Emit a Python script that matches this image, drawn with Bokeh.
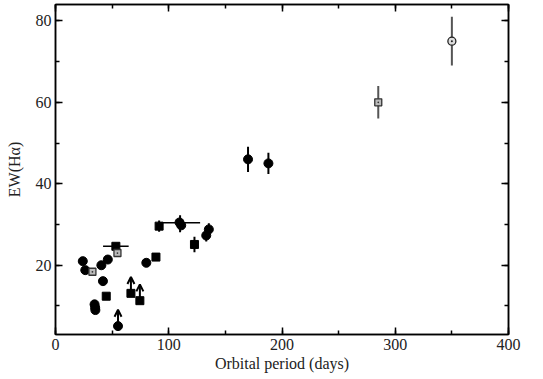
from bokeh.plotting import figure
from bokeh.models import (LinearAxis, SingleIntervalTicker, Range1d, Arrow,
                          OpenHead, ColumnDataSource, CustomLabelingPolicy)
from bokeh.embed import file_html
from bokeh.resources import INLINE

# ---- data (orbital period in days, EW(Halpha)) ----
circ_P = [24.1, 26.3, 40.5, 46.2, 41.9, 34.5, 35.0, 35.2, 55.2, 80.2, 109.5, 111.0, 133.1, 135.4, 170.0, 188.0]
circ_E = [21.0, 18.8, 20.0, 21.4, 16.1, 10.4, 9.6, 9.0, 5.06, 20.6, 30.5, 29.8, 27.3, 28.8, 46.0, 45.0]

sq_P = [44.8, 53.3, 88.7, 91.5, 122.7, 66.6, 74.5]
sq_E = [12.4, 24.65, 22.0, 29.6, 25.1, 13.1, 11.3]

osq_P = [32.6, 54.7, 285.0]
osq_E = [18.4, 23.0, 60.0]

ocirc_P = [350.0]
ocirc_E = [75.0]

# vertical error bars (x, y, +/- err)
yerr_P = [91.5, 110.0, 122.7, 133.1, 135.4, 170.0, 188.0]
yerr_E = [29.6, 30.2, 25.1, 27.3, 28.8, 46.0, 45.0]
yerr_d = [1.4, 2.1, 1.9, 1.5, 1.5, 3.1, 2.6]

yerr_open_P = [285.0, 350.0]
yerr_open_E = [60.0, 75.0]
yerr_open_d = [4.0, 6.0]

# horizontal error bars
xerr_P = [53.3, 110.0]
xerr_E = [24.65, 30.4]
xerr_d = [11.3, 17.7]

# lower limits (arrows)
lim_P = [55.2, 66.6, 74.5]
lim_E = [5.06, 13.1, 11.3]
lim_len = [4.0, 4.0, 4.0]

FONT = "Liberation Serif"
TXT = "#222222"

p = figure(width=543, height=379, x_range=Range1d(0, 400), y_range=Range1d(3, 84),
           output_backend="svg", toolbar_location=None,
           min_border_left=55, min_border_right=35, min_border_top=4, min_border_bottom=45,
           x_axis_label="Orbital period (days)", y_axis_label="EW(H\u03b1)")
p.xgrid.visible = False
p.ygrid.visible = False
p.outline_line_color = "black"
p.outline_line_width = 1.5
p.background_fill_color = "white"
p.border_fill_color = "white"

HIDE = CustomLabelingPolicy(code="""
try { for (let i = 0; i < indices.size; i++) { indices.unset(i) } } catch (e) {}
return indices
""")

def style_axis(ax, show_labels=True):
    ax.axis_line_color = "black"
    ax.axis_line_width = 1.5
    ax.major_tick_in = 7
    ax.major_tick_out = 0
    ax.minor_tick_in = 4
    ax.minor_tick_out = 0
    ax.major_tick_line_width = 1.5
    ax.minor_tick_line_width = 1.5
    ax.major_tick_line_color = "black"
    ax.minor_tick_line_color = "black"
    ax.major_label_text_font = FONT
    ax.axis_label_text_font = FONT
    ax.axis_label_text_font_style = "normal"
    ax.major_label_text_color = TXT
    ax.axis_label_text_color = TXT
    ax.axis_label_text_font_size = "16px"
    if show_labels:
        ax.major_label_text_font_size = "16px"
        ax.major_label_standoff = 4
    else:
        ax.major_label_text_font_size = "1px"
        ax.major_label_standoff = 0
        ax.major_label_policy = HIDE

xt = SingleIntervalTicker(interval=100, num_minor_ticks=2)
yt = SingleIntervalTicker(interval=20, num_minor_ticks=2)
p.xaxis.ticker = xt
p.yaxis.ticker = yt
style_axis(p.xaxis[0])
style_axis(p.yaxis[0])
p.xaxis.axis_label_standoff = 2
p.yaxis.axis_label_standoff = 10

top = LinearAxis(ticker=SingleIntervalTicker(interval=100, num_minor_ticks=2))
right = LinearAxis(ticker=SingleIntervalTicker(interval=20, num_minor_ticks=2))
style_axis(top, False)
style_axis(right, False)
p.add_layout(top, "above")
p.add_layout(right, "right")

# error bars
p.segment(x0=yerr_P, x1=yerr_P,
          y0=[e - d for e, d in zip(yerr_E, yerr_d)],
          y1=[e + d for e, d in zip(yerr_E, yerr_d)],
          line_color="black", line_width=2)
p.segment(x0=yerr_open_P, x1=yerr_open_P,
          y0=[e - d for e, d in zip(yerr_open_E, yerr_open_d)],
          y1=[e + d for e, d in zip(yerr_open_E, yerr_open_d)],
          line_color="#555555", line_width=2)
p.segment(x0=[x - d for x, d in zip(xerr_P, xerr_d)],
          x1=[x + d for x, d in zip(xerr_P, xerr_d)],
          y0=xerr_E, y1=xerr_E, line_color="black", line_width=1.5)

# lower-limit arrows
arr_src = ColumnDataSource(dict(x0=lim_P, y0=lim_E, x1=lim_P,
                                y1=[e + l for e, l in zip(lim_E, lim_len)]))
p.add_layout(Arrow(end=OpenHead(size=7, line_width=2, line_color="black"),
                   source=arr_src, x_start="x0", y_start="y0", x_end="x1", y_end="y1",
                   line_width=2, line_color="black"))

# markers
p.scatter(circ_P, circ_E, marker="circle", size=9, fill_color="black", line_color="black")
p.scatter(sq_P, sq_E, marker="square", size=8, fill_color="black", line_color="black")
p.scatter(osq_P, osq_E, marker="square_dot", size=7, fill_color="#bbbbbb",
          line_color="#333333", line_width=1.3)
p.scatter(ocirc_P, ocirc_E, marker="circle_dot", size=8, fill_color="#dddddd",
          line_color="#222222", line_width=1.3)

open("out.html", "w").write(file_html(p, INLINE))
